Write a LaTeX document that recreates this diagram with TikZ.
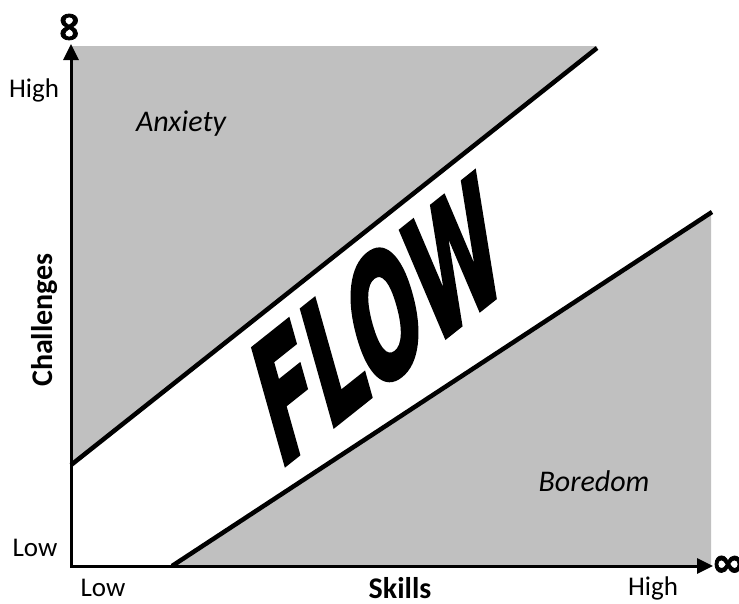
\documentclass[tikz,border=0pt]{standalone}
\usepackage{fontspec}
\setmainfont{Carlito}
\newfontfamily\flowfont{DejaVu Sans}
\newfontfamily\symfont{DejaVu Sans}
\usetikzlibrary{arrows.meta}
\definecolor{zonegray}{RGB}{192,192,192}
\begin{document}
\begin{tikzpicture}[x=1pt,y=-1pt,
  axis/.style={line width=3pt,{Triangle[length=16pt,width=15pt]}-{Triangle[length=16pt,width=15pt]}},
  bound/.style={line width=4.5pt},
  lbl/.style={font=\fontsize{27}{30}\selectfont, inner sep=0pt},
  blbl/.style={font=\fontsize{30}{34}\selectfont\bfseries, inner sep=0pt},
  zone/.style={font=\fontsize{30}{34}\selectfont\itshape, inner sep=0pt},
  inf/.style={font=\fontsize{40}{42}\selectfont\symfont\bfseries\addfontfeature{FakeBold=2}, inner sep=0pt},
  flow/.style={font=\fontsize{152}{152}\selectfont\flowfont\bfseries\addfontfeature{FakeBold=3}, inner sep=0pt, transform shape}]
\useasboundingbox (0,0) rectangle (739,603);
\coordinate (O) at (71,566);
\coordinate (ytip) at (71,44);
\coordinate (xtip) at (713,566);
\coordinate (ua) at (71,465);
\coordinate (ub) at (597,48);
\coordinate (la) at (172,566);
\coordinate (lb) at (712,212);
\fill[zonegray] (71,46) -- (597,46) -- (ub) -- (ua) -- cycle;
\fill[zonegray] (la) -- (lb) -- (711,214) -- (711,566) -- cycle;
\draw[bound] (ua) -- (ub);
\draw[bound] (la) -- (lb);
\draw[axis] (ytip) -- (O) -- (xtip);
\node[inf, rotate=90] (inftop) at (71,27) {∞};
\node[inf] (infright) at (728,566) {∞};
\node[lbl] (yhigh) at (34,90) {High};
\node[lbl] (ylow) at (35,548) {Low};
\node[lbl] (xlow) at (103,588) {Low};
\node[lbl] (xhigh) at (653,588) {High};
\node[blbl] (skills) at (400,588) {Skills};
\node[blbl, rotate=90] (chal) at (45,320) {Challenges};
\node[zone] (anx) at (181,124) {Anxiety};
\node[zone] (bor) at (594,481) {Boredom};
\begin{scope}[shift={(378,320)}, rotate=38.5, xslant=0.42, xscale=0.6]
\node[flow] (flowtxt) at (0,0) {FLOW};
\end{scope}
\end{tikzpicture}
\end{document}
